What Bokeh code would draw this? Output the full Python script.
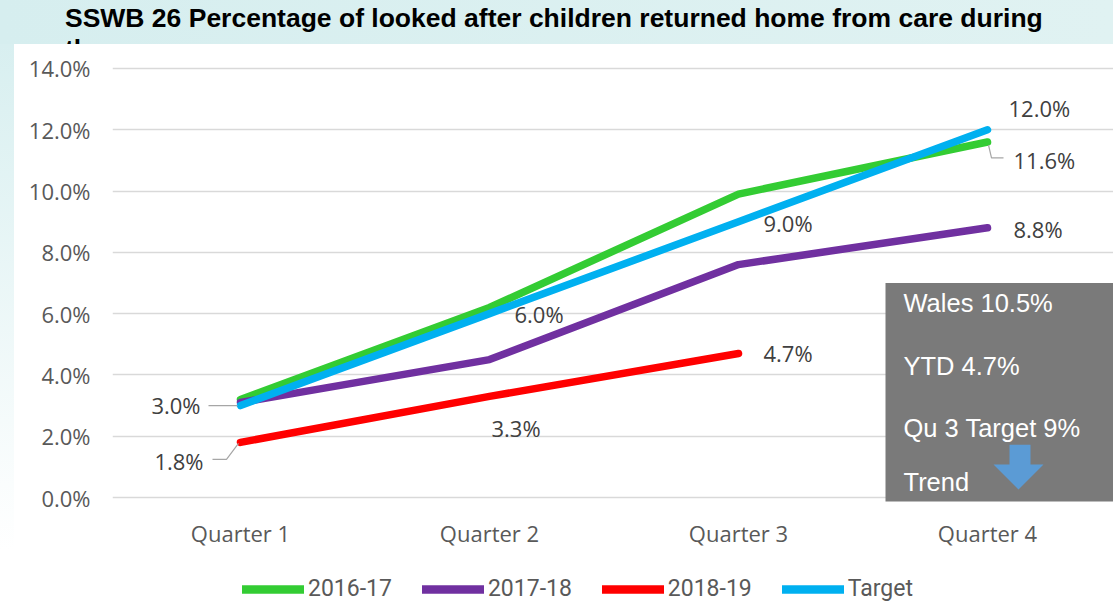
from bokeh.plotting import figure
from bokeh.models import (ColumnDataSource, FixedTicker, PrintfTickFormatter, Legend,
                          LegendItem, Div, Range1d)
from bokeh.layouts import column
from bokeh.embed import file_html
from bokeh.resources import INLINE
from bokeh.core.properties import value

# ---------------- data ----------------
quarters = ["Quarter 1", "Quarter 2", "Quarter 3", "Quarter 4"]
series_names = ["2016-17", "2017-18", "2018-19", "Target"]
s2016_17 = [3.2, 6.2, 9.9, 11.6]
s2017_18 = [3.1, 4.5, 7.6, 8.8]
s2018_19 = [1.8, 3.3, 4.7]
target = [3.0, 6.0, 9.0, 12.0]
y_ticks = [0, 2, 4, 6, 8, 10, 12, 14]
info_lines = ["Wales 10.5%", "YTD 4.7%", "Qu 3 Target 9%", "Trend"]
title_text = "SSWB 26 Percentage of looked after children returned home from care during"
title_rest = "the year"

colors = ["#33CC33", "#7030A0", "#FF0000", "#00B0F0"]
all_series = [s2016_17, s2017_18, s2018_19, target]

# ---------- geometry helpers (reference pixel layout -> data units) ----------
PX_X = 249.0      # pixels per quarter
PX_Y = 30.714     # pixels per percentage point
def dx(px):  # window px -> x data
    return 1 + (px - 240) / PX_X
def dy(py):  # window py -> y data
    return (498 - py) / PX_Y

qx = [i + 1 for i in range(len(quarters))]

p = figure(width=1113, height=506, title=None, output_backend="svg",
           toolbar_location=None, tools="",
           x_range=Range1d(dx(112), dx(1113)), y_range=Range1d(dy(505), dy(44)),
           min_border_left=112, min_border_right=0, min_border_top=0,
           min_border_bottom=45)
p.background_fill_color = "white"
p.border_fill_color = None
p.outline_line_color = None
p.styles = {"background": "linear-gradient(to right, rgba(255,255,255,0) 14px, #ffffff 14px), "
                          "linear-gradient(to bottom, #d8eff0, #ffffff)"}

for vals, col in zip(all_series, colors):
    p.line(qx[:len(vals)], vals, line_color=col, line_width=7.5,
           line_cap="round", line_join="round")

# data labels
lbl_x = [1, 2, 3, 4, 4, 4, 1, 2, 3]
lbl_y = [target[0], target[1], target[2], target[3], s2016_17[3], s2017_18[3],
         s2018_19[0], s2018_19[1], s2018_19[2]]
lbl_dx = [-40, 25, 25, 21, 26, 26, -37, 2, 25]
lbl_dy = [-1, 0, 1, -22, 18, 1, 19, 32, 0]
lbl_align = ["right", "left", "left", "left", "left", "left", "right", "left", "left"]
src = ColumnDataSource(dict(x=lbl_x, y=lbl_y, t=[f"{v:.1f}%" for v in lbl_y],
                            dx=lbl_dx, dy=lbl_dy, al=lbl_align))
p.text(x="x", y="y", text="t", x_offset="dx", y_offset="dy", text_align="al",
       text_baseline="middle", text_font=value("Open Sans"), text_font_size="22px",
       text_color="#404040", source=src)

# leader lines
def leader(q, v, pts):
    return [q + a / PX_X for a, b in pts], [v - b / PX_Y for a, b in pts]
lx, ly = [], []
for q, v, pts in [(1, target[0], [(-32, 0), (-3, 0)]),
                  (1, s2018_19[0], [(-28, 17), (-14, 17), (-2, 1)]),
                  (4, s2016_17[3], [(1, 3), (4, 16), (16, 16)])]:
    a, b = leader(q, v, pts)
    lx.append(a); ly.append(b)
p.multi_line(lx, ly, line_color="#a6a6a6", line_width=1.2)

# grey info panel
p.quad(left=[dx(885)], right=[dx(1130)], top=[dy(283)], bottom=[dy(502)],
       fill_color="#7a7a7a", line_color=None)
p.text(x=[dx(903)] * 4, y=[dy(303.5), dy(366.5), dy(428.5), dy(482.5)], text=info_lines,
       text_font=value("Liberation Sans"), text_font_size="25.5px",
       text_color="#ffffff", text_baseline="middle", text_align="left")
arrow_px = [(1009, 445), (1030, 445), (1030, 465), (1043, 465), (1018, 490),
            (993, 465), (1009, 465)]
p.patch([dx(a) for a, b in arrow_px], [dy(b) for a, b in arrow_px],
        fill_color="#5B9BD5", line_color=None)

# axes
p.xaxis.ticker = FixedTicker(ticks=qx)
p.xaxis.major_label_overrides = {q: name for q, name in zip(qx, quarters)}
p.yaxis.ticker = FixedTicker(ticks=y_ticks)
p.yaxis.formatter = PrintfTickFormatter(format="%.1f%%")
for ax in (p.xaxis, p.yaxis):
    ax.axis_line_color = None
    ax.major_tick_line_color = None
    ax.minor_tick_line_color = None
    ax.major_tick_in = 0
    ax.major_tick_out = 0
    ax.minor_tick_in = 0
    ax.minor_tick_out = 0
    ax.major_label_text_font = "Open Sans"
    ax.major_label_text_font_size = "22px"
    ax.major_label_text_color = "#595959"
p.yaxis.major_label_standoff = 22
p.xaxis.major_label_standoff = 13
p.xgrid.visible = False
p.ygrid.grid_line_color = "#d9d9d9"
p.ygrid.grid_line_width = 1.5

# legend strip (separate small figure below the chart; its series lie outside its view)
lg = figure(width=1113, height=52, title=None, output_backend="svg",
            toolbar_location=None, tools="", x_axis_type=None, y_axis_type=None,
            x_range=Range1d(0, 1), y_range=Range1d(100, 101),
            min_border_left=0, min_border_right=0, min_border_top=0, min_border_bottom=0)
lg.outline_line_color = None
lg.xgrid.visible = False
lg.ygrid.visible = False
lg_renderers = [lg.line(qx[:len(vals)], vals, line_color=c, line_width=8.5, line_cap="round")
                for vals, c in zip(all_series, colors)]
legend = Legend(items=[LegendItem(label=n, renderers=[r])
                       for n, r in zip(series_names, lg_renderers)],
                location=(130, 0), orientation="horizontal", glyph_width=62,
                glyph_height=12, label_text_font="Roboto", label_text_font_size="23px",
                label_text_color="#595959", spacing=30, label_standoff=4, padding=0,
                margin=0, border_line_color=None, background_fill_alpha=0)
lg.add_layout(legend)

title_div = Div(
    text=('<div style="font-family: \'Liberation Sans\', Arial, sans-serif; font-weight: bold; '
          'font-size: 26.5px; line-height: 31px; color: #000; margin: 3px 0 0 65px; '
          f'white-space: nowrap;">{title_text}<br>{title_rest}</div>'),
    width=1113, height=44, margin=0,
    styles={"background": "linear-gradient(to right, #d6eeef, #e0f2f2)", "overflow": "hidden"})

layout = column(title_div, p, lg, spacing=0)
open("out.html", "w").write(file_html(layout, INLINE))
